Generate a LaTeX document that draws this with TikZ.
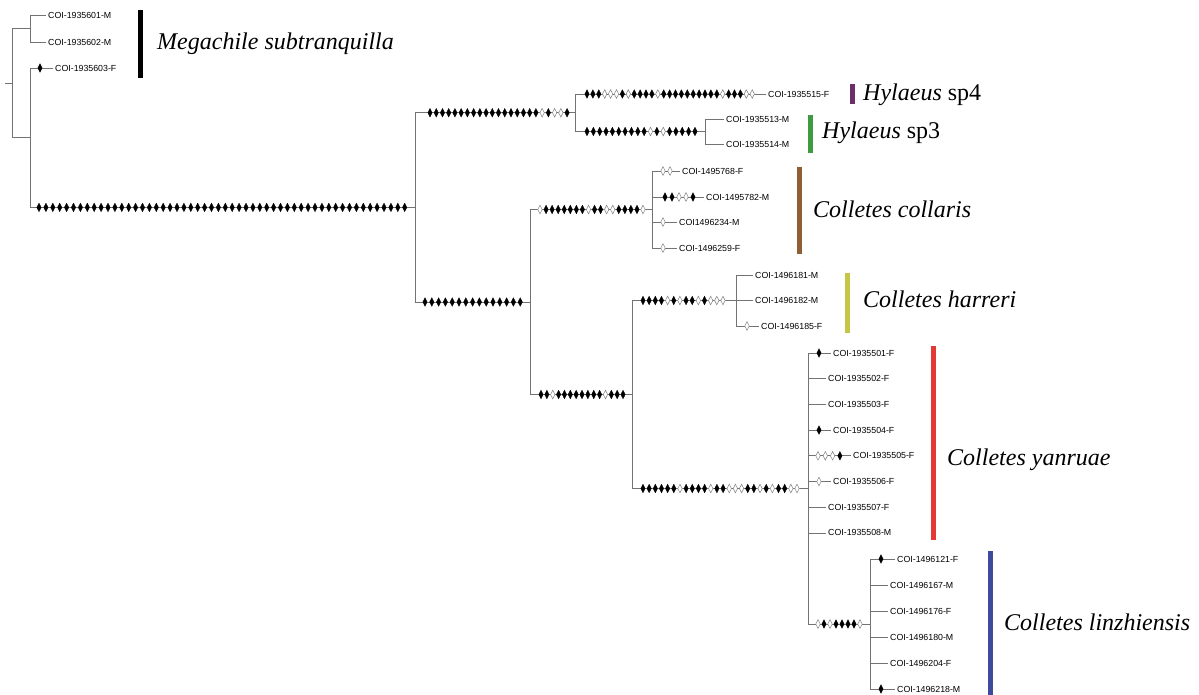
\documentclass[tikz,border=0pt]{standalone}
\usepackage{fontspec}
\setmainfont{Liberation Serif}
\newfontfamily\labfont{Liberation Sans}
\definecolor{cpurple}{HTML}{6D2E68}
\definecolor{cgreen}{HTML}{3F9B3F}
\definecolor{cbrown}{HTML}{8E5E35}
\definecolor{colive}{HTML}{C5C547}
\definecolor{cred}{HTML}{E53935}
\definecolor{cblue}{HTML}{3E4A9B}
\tikzset{
 br/.style={draw=black!55, line width=0.8pt},
 leaf/.style={anchor=west, inner xsep=2.5pt, inner ysep=0pt, font=\labfont\fontsize{8.8}{10}\selectfont},
 sp/.style={anchor=base west, inner sep=0pt, font=\fontsize{24}{28}\selectfont},
 bar/.style={line width=5pt},
 mutF/.style={fill=black, draw=black, line width=0.3pt},
 mutO/.style={fill=white, draw=black!50, line width=0.5pt},
}
\newcommand\mutrow[4]{%
  \foreach \t [count=\i from 0] in {#4} {\path[mut\t] ({#1+\i*#2},#3) +(0,-4.3) -- +(2.2,0) -- +(0,4.3) -- +(-2.2,0) -- cycle;}}
\newcommand\mutrun[4]{%
  \foreach \i in {1,...,#4} {\path[mutF] ({#1+(\i-1)*#2},#3) +(0,-4.3) -- +(2.2,0) -- +(0,4.3) -- +(-2.2,0) -- cycle;}}
\begin{document}
\begin{tikzpicture}[x=1pt,y=-1pt]
\useasboundingbox (0,0) rectangle (1199,695);
% internal nodes
\coordinate (R0) at (5,83.1);
\coordinate (R) at (12,83.1);
\coordinate (M1) at (30,28.5);
\coordinate (M2) at (30,137.7);
\coordinate (A) at (415,207.4);
\coordinate (H) at (575,112.75);
\coordinate (H3) at (705,131.5);
\coordinate (C) at (530,302);
\coordinate (CC) at (652,209.5);
\coordinate (D) at (632,394.5);
\coordinate (HR) at (736,300.5);
\coordinate (Y) at (808,488.5);
\coordinate (L) at (870,624);
% leaves
\node[leaf] (l601) at (45.5,15) {COI-1935601-M};
\node[leaf] (l602) at (45.5,42) {COI-1935602-M};
\node[leaf] (l603) at (52.5,68) {COI-1935603-F};
\node[leaf] (l515) at (765.5,94) {COI-1935515-F};
\node[leaf] (l513) at (723.5,119) {COI-1935513-M};
\node[leaf] (l514) at (723.5,144) {COI-1935514-M};
\node[leaf] (l768) at (679.5,171) {COI-1495768-F};
\node[leaf] (l782) at (703.5,197) {COI-1495782-M};
\node[leaf] (l234) at (676.5,222) {COI1496234-M};
\node[leaf] (l259) at (676.5,248) {COI-1496259-F};
\node[leaf] (l181) at (752.5,275) {COI-1496181-M};
\node[leaf] (l182) at (752.5,300.5) {COI-1496182-M};
\node[leaf] (l185) at (758.5,326) {COI-1496185-F};
\node[leaf] (y501) at (830.5,353) {COI-1935501-F};
\node[leaf] (y502) at (825.5,378.7) {COI-1935502-F};
\node[leaf] (y503) at (825.5,404.4) {COI-1935503-F};
\node[leaf] (y504) at (830.5,430.1) {COI-1935504-F};
\node[leaf] (y505) at (850.5,455.8) {COI-1935505-F};
\node[leaf] (y506) at (830.5,481.5) {COI-1935506-F};
\node[leaf] (y507) at (825.5,507.2) {COI-1935507-F};
\node[leaf] (y508) at (825.5,532.9) {COI-1935508-M};
\node[leaf] (z121) at (894.5,559) {COI-1496121-F};
\node[leaf] (z167) at (887.5,585) {COI-1496167-M};
\node[leaf] (z176) at (887.5,611) {COI-1496176-F};
\node[leaf] (z180) at (887.5,637) {COI-1496180-M};
\node[leaf] (z204) at (887.5,663) {COI-1496204-F};
\node[leaf] (z218) at (894.5,689) {COI-1496218-M};
% branches
\draw[br] (R0) -- (R);
\draw[br] (R) |- (M1); \draw[br] (R) |- (M2);
\draw[br] (M1) |- (l601); \draw[br] (M1) |- (l602);
\draw[br] (M2) |- (l603); \draw[br] (M2) |- (A);
\draw[br] (A) |- (H); \draw[br] (A) |- (C);
\draw[br] (H) |- (l515); \draw[br] (H) |- (H3);
\draw[br] (H3) |- (l513); \draw[br] (H3) |- (l514);
\draw[br] (C) |- (CC); \draw[br] (C) |- (D);
\foreach \n in {l768,l782,l234,l259} \draw[br] (CC) |- (\n);
\draw[br] (D) |- (HR); \draw[br] (D) |- (Y);
\foreach \n in {l181,l182,l185} \draw[br] (HR) |- (\n);
\foreach \n in {y501,y502,y503,y504,y505,y506,y507,y508} \draw[br] (Y) |- (\n);
\draw[br] (Y) |- (L);
\foreach \n in {z121,z167,z176,z180,z204,z218} \draw[br] (L) |- (\n);
% mutation marks
\mutrun{39}{6.9}{207.4}{54}
\mutrow{430}{6.23}{112.75}{F,F,F,F,F,F,F,F,F,F,F,F,F,F,F,F,F,F,O,F,O,O,F}
\mutrow{587}{5.9}{94}{F,F,F,O,O,O,F,O,F,F,F,F,O,F,F,F,F,F,F,F,F,F,F,O,F,F,F,O,O}
\mutrow{587}{6.35}{131.5}{F,F,F,F,F,F,F,F,F,F,O,F,O,F,F,F,F,F}
\mutrow{540}{6.06}{209.5}{O,F,F,F,F,F,F,F,O,F,F,O,O,F,F,F,F,O}
\mutrun{425}{6.8}{302}{15}
\mutrow{541}{5.86}{394.5}{F,F,O,F,F,F,F,F,F,F,F,O,F,F,F}
\mutrow{643}{6.15}{300.5}{F,F,F,F,O,F,O,F,F,O,F,O,O,O}
\mutrow{643}{6.16}{488.5}{F,F,F,F,F,F,O,F,F,F,F,O,F,F,O,O,O,F,F,O,F,O,F,F,O,O}
\mutrow{818}{6}{624}{O,F,O,F,F,F,F,O}
\mutrow{40}{0}{68}{F}
\mutrow{663}{7}{171}{O,O}
\mutrow{665}{7}{197}{F,F,O,O,F}
\mutrow{663}{0}{222}{O}
\mutrow{663}{0}{248}{O}
\mutrow{747}{0}{326}{O}
\mutrow{819}{0}{353}{F}
\mutrow{819}{0}{430.1}{F}
\mutrow{818}{7.3}{455.8}{O,O,O,F}
\mutrow{819}{0}{481.5}{O}
\mutrow{881}{0}{559}{F}
\mutrow{881}{0}{689}{F}
% bars
\draw[bar, black] (140,10) -- (140,78);
\draw[bar, cpurple] (852,84) -- (852,104);
\draw[bar, cgreen] (810,115) -- (810,153);
\draw[bar, cbrown] (799,167) -- (799,254);
\draw[bar, colive] (847,273) -- (847,333);
\draw[bar, cred] (933,346) -- (933,540);
\draw[bar, cblue] (990,551) -- (990,695);
% species labels
\node[sp] (sMeg) at (157,49.5) {\textit{Megachile subtranquilla}};
\node[sp] (sH4) at (863,100.5) {\textit{Hylaeus} sp4};
\node[sp] (sH3) at (822,138.5) {\textit{Hylaeus} sp3};
\node[sp] (sCol) at (813,217.5) {\textit{Colletes collaris}};
\node[sp] (sHar) at (863,307.5) {\textit{Colletes harreri}};
\node[sp] (sYan) at (947,465.5) {\textit{Colletes yanruae}};
\node[sp] (sLin) at (1004,630.5) {\textit{Colletes linzhiensis}};
\end{tikzpicture}
\end{document}
